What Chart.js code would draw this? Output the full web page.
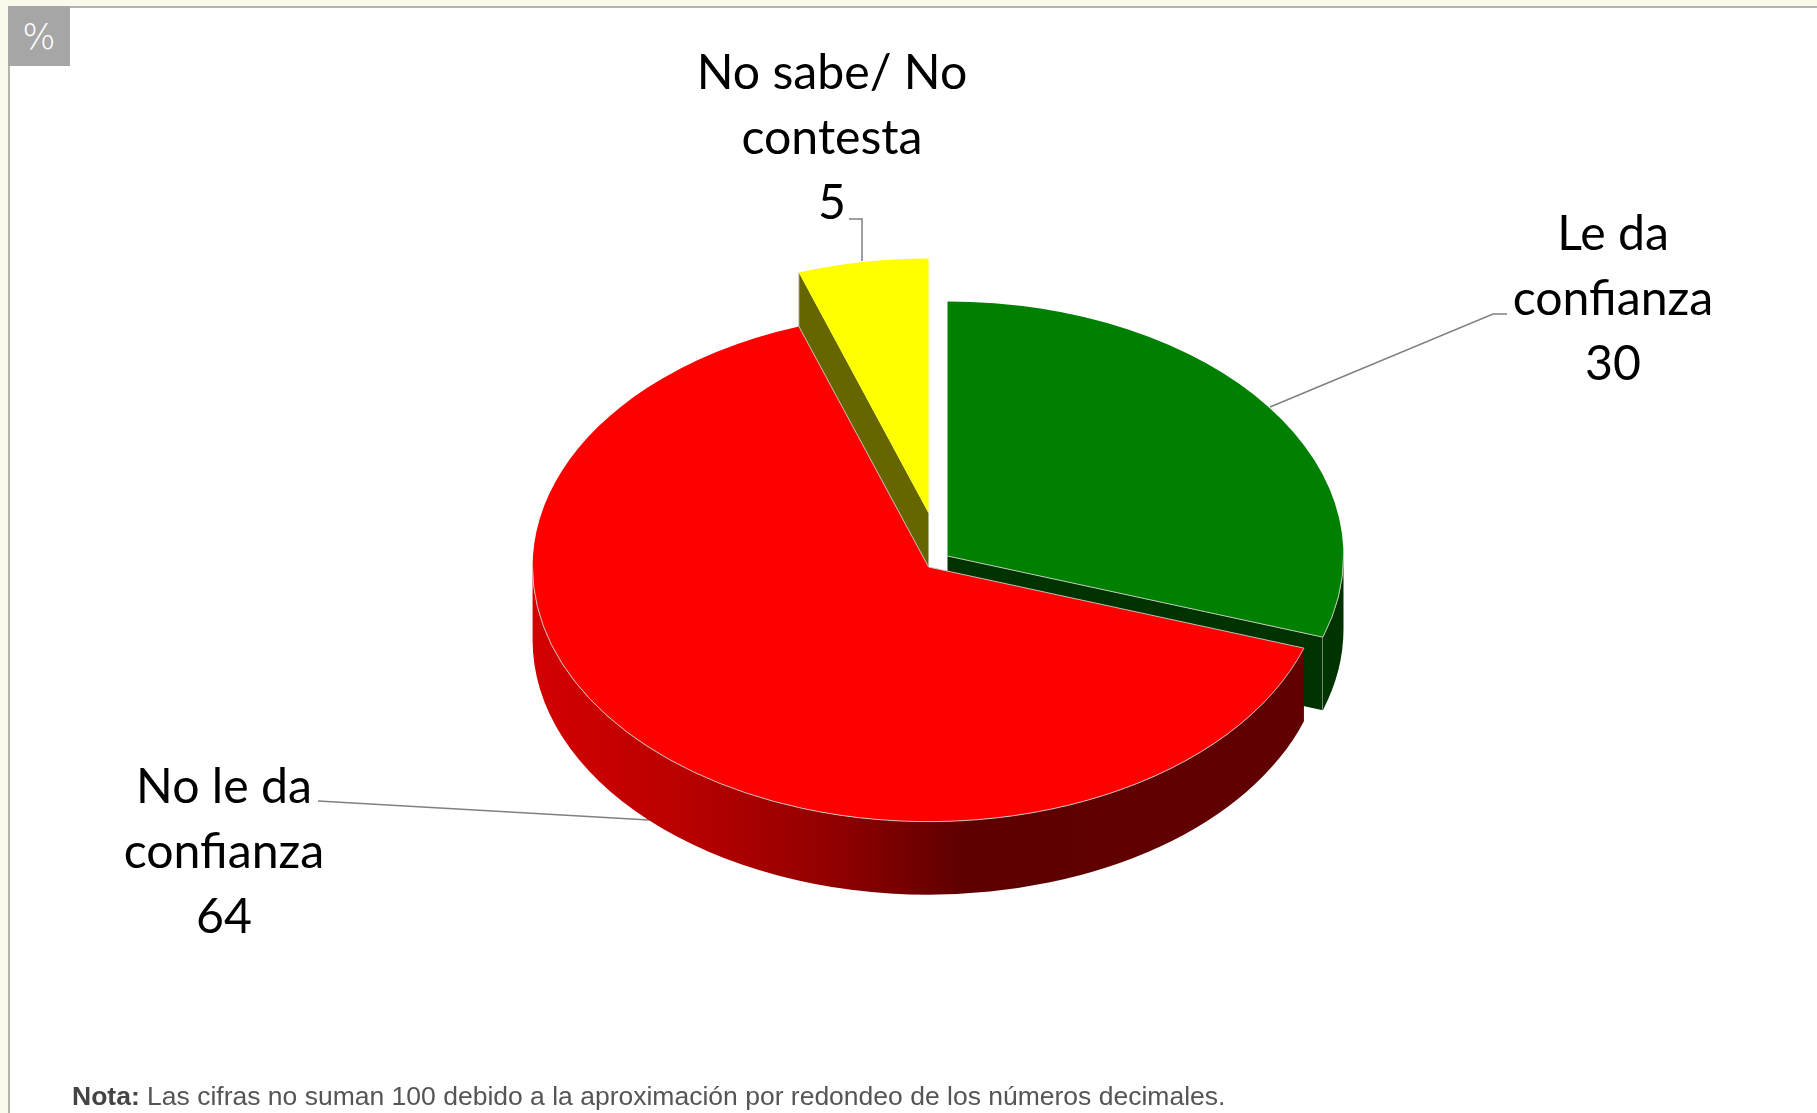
<!DOCTYPE html>
<html>
<head>
<meta charset="utf-8">
<script src="https://cdn.jsdelivr.net/npm/chart.js@4"></script>
<style>
  html, body { margin: 0; height: 100%; overflow: hidden; background: #fbf8ec; }
  #panel { position: absolute; left: 8px; top: 6px; right: 0; bottom: 0; background: #fff;
    border-left: 2px solid #b4b4ac; border-top: 2px solid #b4b4ac; }
  #chart { position: absolute; left: 0; top: 0; }
  #badge { position: absolute; left: 8px; top: 6px; width: 62px; height: 60px; background: #a6a6a6;
    color: #fff; font: 200 35px/63px "DejaVu Sans", sans-serif; text-align: center; }
  #note { position: absolute; left: 72px; top: 1082px; color: #555; white-space: nowrap;
    font: 26.5px/28px "Liberation Sans", Arial, sans-serif; }
  #note b { color: #444; }
</style>
</head>
<body>
<div id="panel"></div>
<canvas id="chart" width="1817" height="1113"></canvas>
<div id="badge">%</div>
<div id="note"><b>Nota:</b> Las cifras no suman 100 debido a la aproximación por redondeo de los números decimales.</div>
<script>
const categories = ['Le da confianza', 'No le da confianza', 'No sabe/ No contesta'];
const labelLines = [['Le da', 'confianza'], ['No le da', 'confianza'], ['No sabe/ No', 'contesta']];
const values = [30.1, 64.4, 5.3];   // labels show them rounded
const explode = [8.5, 17.1, 72.8];
const topColors = ['#008000', '#ff0000', '#ffff00'];
const wallColors = ['#003300', null, '#666600'];

const TILT = 0.643;
const DEPTH = 73;
const RIM = 'rgba(205,205,205,0.9)';

// label centres and leader lines, in page pixels
const labelPos = [{ x: 1613, y: 234.5 }, { x: 224, y: 787.5 }, { x: 832, y: 73.5 }];
const leaders = [
  [[1507, 314], [1493, 314], [1270, 407]],
  [[318, 801], [649, 820]],
  [[849, 219], [862, 219], [862, 261]]
];

function geom(arc, i) {
  const mid = (arc.startAngle + arc.endAngle) / 2;
  return {
    x: arc.x + Math.cos(mid) * explode[i],
    y: arc.y + Math.sin(mid) * explode[i] * TILT,
    r: arc.outerRadius,
    a1: arc.startAngle,
    a2: arc.endAngle
  };
}

function drawWalls(ctx, g, i) {
  const fill = wallColors[i] || redGradient(ctx);
  ctx.fillStyle = fill;
  // cut faces, only the ones turned to the viewer
  [[g.a1, -Math.cos(g.a1)], [g.a2, Math.cos(g.a2)]].forEach(([a, facing]) => {
    if (facing <= 0.001) return;
    const ex = g.x + Math.cos(a) * g.r;
    const ey = g.y + Math.sin(a) * g.r * TILT;
    ctx.beginPath();
    ctx.moveTo(g.x, g.y);
    ctx.lineTo(ex, ey);
    ctx.lineTo(ex, ey + DEPTH);
    ctx.lineTo(g.x, g.y + DEPTH);
    ctx.closePath();
    ctx.fill();
    ctx.strokeStyle = RIM;
    ctx.lineWidth = 1;
    ctx.beginPath();
    ctx.moveTo(ex, ey);
    ctx.lineTo(ex, ey + DEPTH);
    ctx.stroke();
  });
  // outer rim, front half only
  const from = Math.max(g.a1, 0);
  const to = Math.min(g.a2, Math.PI);
  if (to > from) {
    ctx.beginPath();
    ctx.ellipse(g.x, g.y, g.r, g.r * TILT, 0, from, to);
    ctx.ellipse(g.x, g.y + DEPTH, g.r, g.r * TILT, 0, to, from, true);
    ctx.closePath();
    ctx.fill();
  }
}

function redGradient(ctx) {
  const grad = ctx.createLinearGradient(532, 0, 1305, 0);
  grad.addColorStop(0, '#d40000');
  grad.addColorStop(0.2, '#b80000');
  grad.addColorStop(0.4, '#8e0000');
  grad.addColorStop(0.56, '#5e0000');
  grad.addColorStop(1, '#620000');
  return grad;
}

function drawTop(ctx, arc, g) {
  ctx.save();
  ctx.translate(g.x, g.y);
  ctx.scale(1, TILT);
  ctx.translate(-arc.x, -arc.y);
  arc.draw(ctx);
  ctx.restore();
}

function drawRimLine(ctx, g, i) {
  ctx.strokeStyle = RIM;
  ctx.lineWidth = 1;
  ctx.beginPath();
  if (i === 2) {
    // yellow has no visible edge
    return;
  }
  if (i === 0) {
    ctx.moveTo(g.x, g.y);
    ctx.lineTo(g.x + Math.cos(g.a2) * g.r, g.y + Math.sin(g.a2) * g.r * TILT);
    ctx.ellipse(g.x, g.y, g.r, g.r * TILT, 0, g.a2, 0, true);
  } else {
    ctx.moveTo(g.x + Math.cos(g.a2) * g.r, g.y + Math.sin(g.a2) * g.r * TILT);
    ctx.lineTo(g.x, g.y);
    ctx.lineTo(g.x + Math.cos(g.a1) * g.r, g.y + Math.sin(g.a1) * g.r * TILT);
    ctx.ellipse(g.x, g.y, g.r, g.r * TILT, 0, g.a1, Math.PI);
  }
  ctx.stroke();
}

const pie3d = {
  id: 'pie3d',
  beforeDatasetsDraw(chart) {
    const ctx = chart.ctx;
    const arcs = chart.getDatasetMeta(0).data;

    ctx.save();
    ctx.strokeStyle = '#808080';
    ctx.lineWidth = 1.5;
    leaders.forEach(pts => {
      ctx.beginPath();
      pts.forEach((p, n) => n ? ctx.lineTo(p[0], p[1]) : ctx.moveTo(p[0], p[1]));
      ctx.stroke();
    });

    // back to front: yellow, green, red
    [2, 0, 1].forEach(i => {
      const g = geom(arcs[i], i);
      drawWalls(ctx, g, i);
      drawTop(ctx, arcs[i], g);
      drawRimLine(ctx, g, i);
    });

    ctx.fillStyle = '#000';
    ctx.font = '48.2px Lato, sans-serif';
    ctx.textAlign = 'center';
    ctx.textBaseline = 'middle';
    categories.forEach((c, i) => {
      const lines = labelLines[i].concat(String(Math.round(values[i])));
      lines.forEach((line, n) => ctx.fillText(line, labelPos[i].x, labelPos[i].y + n * 65));
    });
    ctx.restore();
    return false;
  }
};

new Chart(document.getElementById('chart').getContext('2d'), {
  type: 'pie',
  plugins: [pie3d],
  data: {
    labels: categories,
    datasets: [{
      data: values,
      backgroundColor: topColors,
      borderWidth: 0,
      radius: 396
    }]
  },
  options: {
    responsive: false,
    animation: false,
    // moves the pie centre to where the reference has it
    layout: { padding: { left: 64.2, top: 5.4 } },
    plugins: { legend: { display: false }, tooltip: { enabled: false } }
  }
});
</script>
</body>
</html>
